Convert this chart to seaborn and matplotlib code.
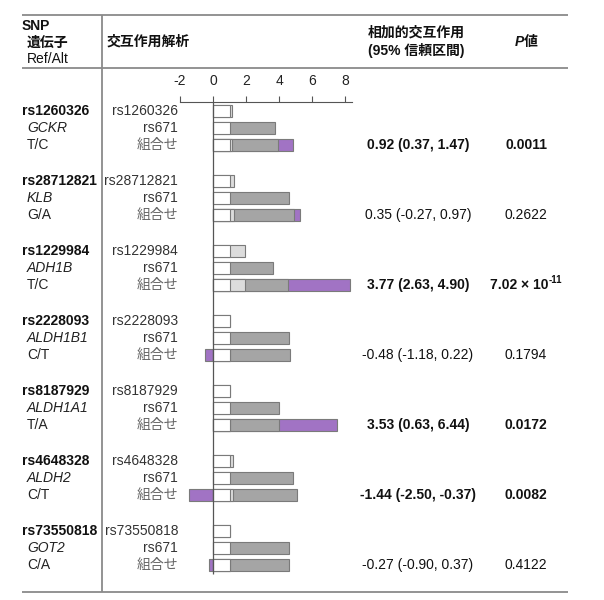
import numpy as np
import pandas as pd
import matplotlib
matplotlib.use("Agg")
import matplotlib.pyplot as plt
import seaborn as sns

# ---------------- data ----------------
snps = ["rs1260326", "rs28712821", "rs1229984", "rs2228093", "rs8187929", "rs4648328", "rs73550818"]
genes = ["GCKR", "KLB", "ADH1B", "ALDH1B1", "ALDH1A1", "ALDH2", "GOT2"]
alleles = ["T/C", "G/A", "T/C", "C/T", "T/A", "C/T", "C/A"]
snp_excess = [0.17, 0.27, 0.92, 0.03, 0.03, 0.22, 0.03]      # RR - 1 for SNP alone
rs671_excess = [2.78, 3.63, 2.64, 3.63, 2.98, 3.85, 3.59]   # RR - 1 for rs671 alone
reri = [0.92, 0.35, 3.77, -0.48, 3.53, -1.44, -0.27]        # additive interaction
reri_text = ["0.92 (0.37, 1.47)", "0.35 (-0.27, 0.97)", "3.77 (2.63, 4.90)",
             "-0.48 (-1.18, 0.22)", "3.53 (0.63, 6.44)", "-1.44 (-2.50, -0.37)",
             "-0.27 (-0.90, 0.37)"]
p_text = ["0.0011", "0.2622", "7.02 × 10", "0.1794", "0.0172", "0.0082", "0.4122"]
p_exp = [None, None, "-11", None, None, None, None]
significant = [True, False, True, False, True, True, False]
row_labels = ["{snp}", "rs671", "組合せ"]
xticks = [-2, 0, 2, 4, 6, 8]

# ---------------- style ----------------
sns.set_style("white")
plt.rcParams["font.family"] = ["Liberation Sans", "Noto Sans CJK JP", "DejaVu Sans"]

W, H = 604, 600
FS = 10
fig = plt.figure(figsize=(W / 100, H / 100), dpi=100)

# background axes in pixel coordinates for the table frame and text
tax = fig.add_axes([0, 0, 1, 1])
tax.set_xlim(0, W)
tax.set_ylim(H, 0)
tax.axis("off")

LINE_C = "#8a8a8a"
TXT = "#111111"
tax.hlines([15, 68, 592], 22, 568, color=LINE_C, lw=1.3)
tax.vlines(102, 15, 592, color=LINE_C, lw=1.3)

# header
tax.text(22, 26, "SNP", fontsize=FS, fontweight="bold", va="center", ha="left", color=TXT)
tax.text(27, 43, "遺伝子", fontsize=FS, fontweight="bold", va="center", ha="left", color=TXT)
tax.text(27, 59, "Ref/Alt", fontsize=FS, va="center", ha="left", color=TXT)
tax.text(107, 42, "交互作用解析", fontsize=FS, fontweight="bold", va="center", ha="left", color=TXT)
tax.text(368, 33, "相加的交互作用", fontsize=FS, fontweight="bold", va="center", ha="left", color=TXT)
tax.text(368, 51, "(95% 信頼区間)", fontsize=FS, fontweight="bold", va="center", ha="left", color=TXT)
tax.text(524, 42, "P", fontsize=FS, fontweight="bold", style="italic", va="center", ha="right", color=TXT)
tax.text(524, 42, "値", fontsize=FS, fontweight="bold", va="center", ha="left", color=TXT)

ROW0 = 111.0
ROW_PX = 17.0
GROUP_STEP = 4.12

for g in range(len(snps)):
    ys = [ROW0 + (g * GROUP_STEP + r) * ROW_PX for r in range(3)]
    tax.text(22, ys[0], snps[g], fontsize=FS, fontweight="bold", va="center", ha="left", color=TXT)
    tax.text(27, ys[1], genes[g], fontsize=FS, style="italic", va="center", ha="left", color="#222222")
    tax.text(27, ys[2], alleles[g], fontsize=FS, va="center", ha="left", color="#222222")
    for r, lab in enumerate(row_labels):
        txt = snps[g] if r == 0 else lab
        col = "#666666" if r == 2 else "#333333"
        tax.text(178, ys[r], txt, fontsize=FS, va="center", ha="right", color=col)
    fw = "bold" if significant[g] else "normal"
    tax.text(418, ys[2], reri_text[g], fontsize=FS, fontweight=fw, va="center", ha="center", color=TXT)
    if p_exp[g] is None:
        tax.text(526, ys[2], p_text[g], fontsize=FS, fontweight=fw, va="center", ha="center", color=TXT)
    else:
        tax.text(548, ys[2], p_text[g], fontsize=FS, fontweight=fw, va="center", ha="right", color=TXT)
        tax.text(549, ys[2] - 5, p_exp[g], fontsize=7, fontweight=fw, va="center", ha="left", color=TXT)

# ---------------- bar axes ----------------
PX_PER_UNIT = 16.5
ZERO_PX = 213.0
XMIN, XMAX = -2.2, 8.6
Y_TOP_PX, Y_BOT_PX = 102.0, 592.0
ytop = (Y_TOP_PX - ROW0) / ROW_PX
ybot = (Y_BOT_PX - ROW0) / ROW_PX
x0px = ZERO_PX + XMIN * PX_PER_UNIT
x1px = ZERO_PX + XMAX * PX_PER_UNIT
ax = fig.add_axes([x0px / W, (H - Y_BOT_PX) / H, (x1px - x0px) / W, (Y_BOT_PX - Y_TOP_PX) / H])
ax.patch.set_alpha(0)

# build layers (cumulative stacking drawn longest-first)
rows = []
for g in range(len(snps)):
    base = g * GROUP_STEP
    rows.append(dict(y=base + 0, kind="snp", g=g))
    rows.append(dict(y=base + 1, kind="rs671", g=g))
    rows.append(dict(y=base + 2, kind="both", g=g))

purple, dark, light, white = [], [], [], []
for r in rows:
    g = r["g"]
    y = r["y"]
    white.append((y, 1.0))
    if r["kind"] == "snp":
        light.append((y, 1 + snp_excess[g]))
    elif r["kind"] == "rs671":
        dark.append((y, 1 + rs671_excess[g]))
    else:
        light.append((y, 1 + snp_excess[g]))
        dark.append((y, 1 + snp_excess[g] + rs671_excess[g]))
        if reri[g] >= 0:
            purple.append((y, 1 + snp_excess[g] + rs671_excess[g] + reri[g]))
        else:
            purple.append((y, reri[g]))

EDGE = "#7a7a7a"
BAR_H = 0.72


def draw_layer(pairs, color):
    df = pd.DataFrame(pairs, columns=["y", "x"])
    uy = np.sort(df["y"].unique())
    mind = np.min(np.diff(uy)) if len(uy) > 1 else 1.0
    sns.barplot(data=df, x="x", y="y", orient="h", native_scale=True,
                width=BAR_H / mind, color=color, saturation=1,
                edgecolor=EDGE, linewidth=0.8, errorbar=None, ax=ax)


draw_layer(purple, "#a173c4")
draw_layer(dark, "#a5a5a5")
draw_layer(light, "#dcdcdc")
draw_layer(white, "#ffffff")

ax.vlines(0, ytop, (574 - ROW0) / ROW_PX, color="#555555", lw=0.9, zorder=5)

ax.set_xlim(XMIN, XMAX)
ax.set_ylim(ybot, ytop)
ax.set_xlabel("")
ax.set_ylabel("")
ax.set_yticks([])
ax.xaxis.tick_top()
ax.set_xticks(xticks)
ax.set_xticklabels([str(t) for t in xticks])
ax.tick_params(axis="x", direction="out", length=4, width=0.8, color="#555555",
               labelsize=FS, labelcolor="#222222", pad=6)
for s in ["left", "right", "bottom"]:
    ax.spines[s].set_visible(False)
ax.spines["top"].set_visible(True)
ax.spines["top"].set_color("#555555")
ax.spines["top"].set_linewidth(0.8)
ax.spines["top"].set_bounds(-2, 8.4)

fig.savefig("out.png", dpi=100)
